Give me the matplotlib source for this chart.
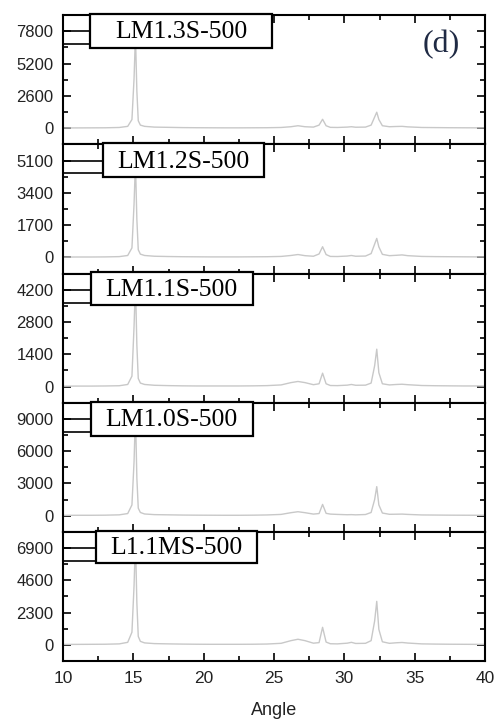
import numpy as np
import matplotlib
matplotlib.use("Agg")
import matplotlib.pyplot as plt
from matplotlib.patches import Rectangle
from matplotlib.ticker import MultipleLocator

plt.rcParams['font.family'] = ['Liberation Sans', 'DejaVu Sans']

angle = [10, 11, 12, 13, 14, 14.6, 14.9, 15.05, 15.15, 15.25, 15.35, 15.5, 15.8,
         16.5, 17.5, 18.5, 19.5, 20.5, 21.5, 22.5, 23.5, 24.5, 25.5, 26.2, 26.7,
         27.2, 27.8, 28.2, 28.45, 28.7, 29.0, 29.5, 30.2, 30.5, 30.8, 31.5, 31.9,
         32.15, 32.3, 32.45, 32.7, 33.2, 33.7, 34.1, 34.5, 35.5, 36.5, 37.5, 38.5,
         39.5, 40]

lm13s = [20, 25, 30, 35, 60, 150, 700, 4000, 7500, 3000, 600, 250, 150,
         90, 70, 50, 40, 35, 30, 30, 35, 40, 60, 120, 200,
         120, 90, 250, 720, 200, 70, 60, 90, 120, 80, 90, 250,
         900, 1290, 700, 200, 120, 140, 150, 110, 60, 50, 40, 35,
         30, 30]
lm12s = [15, 20, 20, 25, 40, 100, 500, 2800, 5000, 2000, 400, 170, 100,
         60, 45, 35, 30, 25, 25, 25, 30, 35, 50, 100, 150,
         90, 60, 180, 560, 150, 50, 45, 70, 100, 60, 70, 200,
         700, 1000, 550, 160, 90, 110, 130, 90, 50, 40, 35, 30,
         25, 25]
lm11s = [15, 20, 20, 25, 35, 90, 450, 2600, 4500, 1800, 350, 150, 90,
         55, 40, 30, 25, 25, 25, 25, 30, 40, 70, 170, 220,
         170, 80, 120, 580, 120, 45, 40, 60, 90, 55, 60, 150,
         900, 1620, 600, 120, 70, 90, 100, 80, 45, 35, 30, 25,
         25, 20]
lm10s = [30, 40, 40, 50, 80, 200, 1000, 5000, 9500, 3500, 700, 300, 160,
         100, 80, 60, 50, 45, 40, 40, 50, 70, 120, 280, 370,
         280, 150, 200, 1050, 220, 150, 120, 90, 100, 80, 110, 300,
         1500, 2700, 1000, 250, 130, 140, 150, 120, 70, 60, 50, 45,
         40, 35]
l11ms = [30, 35, 40, 45, 70, 180, 900, 4200, 7500, 3000, 600, 250, 140,
         90, 70, 55, 45, 40, 40, 40, 45, 60, 110, 300, 400,
         300, 120, 160, 1250, 200, 80, 70, 120, 180, 100, 110, 300,
         1700, 3100, 1100, 220, 110, 150, 170, 130, 70, 55, 45, 40,
         35, 35]

series = [lm13s, lm12s, lm11s, lm10s, l11ms]
names = ["LM1.3S-500", "LM1.2S-500", "LM1.1S-500", "LM1.0S-500", "L1.1MS-500"]
steps = [2600, 1700, 1400, 3000, 2300]
# posición de los recuadros (fracción del eje): x0, x1, y0
boxes = [(0.064, 0.495, 0.746), (0.095, 0.476, 0.744), (0.066, 0.450, 0.760),
         (0.066, 0.450, 0.744), (0.078, 0.460, 0.760)]

fig = plt.figure(figsize=(4.96, 7.24), dpi=100)
left, right = 0.127, 0.978
top, bottom = 0.979, 0.087
h = (top - bottom) / 5

for i in range(5):
    ax = fig.add_axes([left, top - (i + 1) * h, right - left, h])
    ax.plot(angle, series[i], color="#c8c8c8", lw=1.0)
    st = steps[i]
    ax.set_xlim(10, 40)
    ax.set_ylim(-0.5 * st, 3.5 * st)
    ax.set_yticks([0, st, 2 * st, 3 * st])
    ax.yaxis.set_minor_locator(MultipleLocator(st / 2))
    ax.xaxis.set_major_locator(MultipleLocator(5))
    ax.xaxis.set_minor_locator(MultipleLocator(2.5))
    ax.tick_params(which="both", direction="in", top=True, right=True,
                   width=1.2, colors="black", labelcolor="#222222", labelsize=12)
    ax.tick_params(axis="y", pad=7)
    ax.tick_params(which="major", length=6)
    ax.tick_params(which="minor", length=3.5)
    for sp in ax.spines.values():
        sp.set_linewidth(1.5)
    if i < 4:
        ax.tick_params(labelbottom=False)
    else:
        ax.set_xlabel("Angle", fontsize=13, color="#222222", labelpad=12)
        ax.tick_params(axis="x", labelsize=12.5, pad=7)

    x0, x1, y0 = boxes[i]
    # líneas horizontales a la izquierda del recuadro
    for yy in (0.875, 0.775):
        ax.plot([0, x0], [yy, yy], transform=ax.transAxes, color="black",
                lw=1.2, clip_on=False, zorder=5)
    rect = Rectangle((x0, y0), x1 - x0, 1.008 - y0, transform=ax.transAxes,
                     facecolor="white", edgecolor="black", lw=1.6,
                     clip_on=False, zorder=6)
    ax.add_patch(rect)
    ax.text((x0 + x1) / 2, (y0 + 1.008) / 2 - 0.01, names[i], transform=ax.transAxes,
            ha="center", va="center", fontsize=18.5, family="Liberation Serif",
            zorder=7)
    if i == 0:
        ax.text(0.897, 0.77, "(d)", transform=ax.transAxes, ha="center",
                va="center", fontsize=23, family="Liberation Serif",
                color="#1f2a44")

fig.savefig("out.png", dpi=100)
